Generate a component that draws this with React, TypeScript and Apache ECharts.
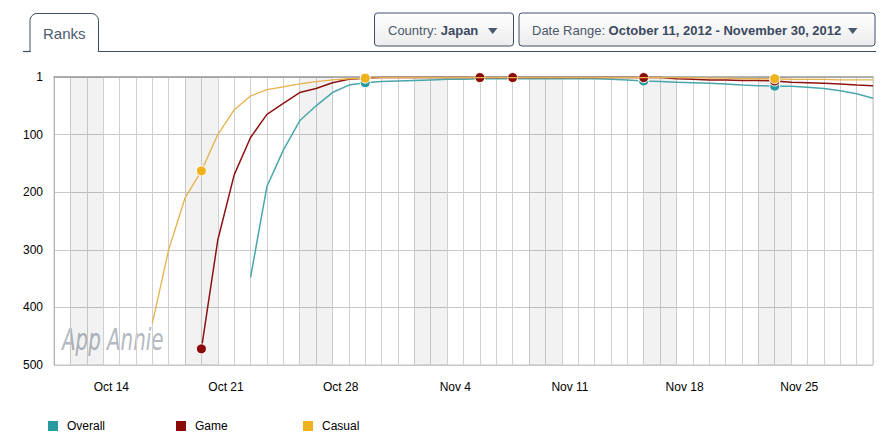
import React, { useEffect, useRef } from "react";
import * as echarts from "echarts";

// ---- data ----
const startDate = { year: 2012, month: 9, day: 11 }; // Oct 11, 2012
const dayCount = 51; // Oct 11 .. Nov 30
const tickLabels = ["Oct 14", "Oct 21", "Oct 28", "Nov 4", "Nov 11", "Nov 18", "Nov 25"];
const yTicks = [1, 100, 200, 300, 400, 500];
const weekendStarts = [1, 8, 15, 22, 29, 36, 43];
const seriesNames = ["Overall", "Game", "Casual"];

const overall: (number | null)[] = [
  null, null, null, null, null, null, null, null, null, null, null, null,
  348, 190, 127, 76, 50, 27, 14, 10, 8, 7, 6, 5, 4, 4, 3, 3, 3, 3, 3, 3, 3, 3,
  4, 5, 7, 8, 9, 10, 11, 12, 14, 15, 16, 16, 18, 20, 24, 29, 37,
];
const game: (number | null)[] = [
  null, null, null, null, null, null, null, null, null,
  472, 283, 170, 105, 65, 46, 27, 20, 10, 4, 2,
  1, 1, 1, 1, 1, 1, 1, 1, 1, 1, 1, 1, 1, 1, 1, 1, 1, 1,
  3, 4, 5, 5, 6, 6, 7, 9, 10, 11, 12, 14, 15,
];
const casual: (number | null)[] = [
  null, null, null, null, null, null,
  428, 300, 210, 163, 100, 57, 33, 22, 17, 12, 8, 5, 3, 2,
  1, 1, 1, 1, 1, 1, 1, 1, 1, 1, 1, 1, 1, 1, 1, 1, 1, 1, 1, 1,
  2, 2, 3, 3, 3, 4, 4, 4, 5, 5, 5,
];
const overallMarkers = [19, 36, 44];
const gameMarkers = [9, 26, 28, 36, 44];
const casualMarkers = [9, 19, 44];

const MONTHS = ["Jan", "Feb", "Mar", "Apr", "May", "Jun", "Jul", "Aug", "Sep", "Oct", "Nov", "Dec"];
function dayLabels(n: number): string[] {
  const out: string[] = [];
  for (let i = 0; i < n; i++) {
    const d = new Date(Date.UTC(startDate.year, startDate.month, startDate.day + i));
    out.push(MONTHS[d.getUTCMonth()] + " " + d.getUTCDate());
  }
  return out;
}

const FONT = "Arial, 'Liberation Sans', sans-serif";

export default function App() {
  const ref = useRef<HTMLDivElement>(null);
  useEffect(() => {
    if (!ref.current) return;
    const chart = echarts.init(ref.current, undefined, { renderer: "svg" });
    const days = dayLabels(dayCount);
    const cells = days.slice(0, dayCount - 1);

    const toData = (arr: (number | null)[]) => arr.map((v) => (v === null ? "-" : v));
    const mkSeries = (name: string, arr: (number | null)[], markers: number[], lineColor: string, dotColor: string, z: number, width: number) => ({
      name,
      type: "line",
      xAxisIndex: 0,
      data: toData(arr),
      z,
      symbol: "circle",
      showSymbol: true,
      showAllSymbol: true,
      symbolSize: (_v: any, p: any) => (markers.includes(p.dataIndex) ? 10 : 0),
      itemStyle: { color: dotColor, borderColor: "#ffffff", borderWidth: 1 },
      lineStyle: { color: lineColor, width },
      connectNulls: false,
    });

    const gradFill = new echarts.graphic.LinearGradient(0, 0, 0, 1, [
      { offset: 0, color: "#ffffff" },
      { offset: 1, color: "#ececec" },
    ]);

    chart.setOption({
      animation: false,
      backgroundColor: "#ffffff",
      textStyle: { fontFamily: FONT },
      grid: { left: 54, right: 15, top: 77, bottom: 82, show: true, borderColor: "#c4c4c4", borderWidth: 1 },
      legend: seriesNames.map((n, i) => ({
        data: [n],
        left: [46, 174, 301][i],
        top: 419,
        padding: 0,
        icon: "rect",
        itemWidth: 12,
        itemHeight: 12,
        itemGap: 8,
        textStyle: { color: "#000", fontSize: 12, fontFamily: FONT, padding: [1, 0, 0, 3] },
        selectedMode: false,
      })),
      xAxis: [
        {
          type: "category",
          data: days,
          boundaryGap: false,
          position: "bottom",
          axisLine: { show: true, lineStyle: { color: "#a0a0a0", width: 1.5 } },
          axisTick: { show: false },
          axisLabel: { show: false },
          splitLine: { show: true, interval: 0, lineStyle: { color: "#d0d0d0", width: 1 } },
        },
        {
          type: "category",
          data: cells,
          boundaryGap: true,
          position: "bottom",
          axisLine: { show: false },
          axisTick: { show: false },
          splitLine: { show: false },
          axisLabel: {
            interval: (_i: number, v: string) => tickLabels.includes(v),
            color: "#000",
            fontSize: 12,
            fontFamily: FONT,
            margin: 16,
          },
        },
      ],
      yAxis: {
        type: "value",
        inverse: true,
        min: 0,
        max: 500,
        interval: 100,
        axisLine: { show: true, lineStyle: { color: "#b4b4b4" } },
        axisTick: { show: false },
        axisLabel: {
          color: "#000",
          fontSize: 12,
          fontFamily: FONT,
          margin: 11,
          formatter: (v: number) => String(yTicks.find((t) => Math.abs(t - v) < 2) ?? v),
        },
        splitLine: { show: true, lineStyle: { color: "#c8c8c8" } },
      },
      series: [
        {
          name: "bands",
          type: "line",
          xAxisIndex: 0,
          data: [],
          z: 1,
          markArea: {
            silent: true,
            itemStyle: { color: "rgba(0,0,0,0.05)" },
            data: weekendStarts.map((s) => [{ xAxis: days[s] }, { xAxis: days[s + 2] }]),
          },
        },
        mkSeries("Overall", overall, overallMarkers, "#4aa6ad", "#2a9aa1", 3, 1.5),
        mkSeries("Game", game, gameMarkers, "#8f1212", "#8b0a0a", 4, 1.5),
        mkSeries("Casual", casual, casualMarkers, "#e6b14a", "#f0b21c", 5, 1.3),
      ],
      graphic: [
        { type: "line", shape: { x1: 23, y1: 51.5, x2: 30, y2: 51.5 }, style: { stroke: "#3d4f66", lineWidth: 1.2 } },
        { type: "line", shape: { x1: 98.5, y1: 51.5, x2: 876, y2: 51.5 }, style: { stroke: "#3d4f66", lineWidth: 1.2 } },
        { type: "rect", shape: { x: 30, y: 13.5, width: 68.5, height: 38, r: [7, 7, 0, 0] }, style: { fill: "#ffffff", stroke: "#3d4f66", lineWidth: 1 } },
        { type: "line", shape: { x1: 30.8, y1: 51.5, x2: 97.7, y2: 51.5 }, style: { stroke: "#ffffff", lineWidth: 2 } },
        { type: "text", x: 43, y: 33, style: { text: "Ranks", fill: "#4a5a70", fontSize: 15, fontFamily: FONT, verticalAlign: "middle" } },

        { type: "rect", shape: { x: 374.5, y: 13, width: 139, height: 33, r: 3 }, style: { fill: gradFill, stroke: "#3d4f66", lineWidth: 1 } },
        {
          type: "text", x: 388, y: 30.5,
          style: {
            text: "{n|Country: }{b|Japan}", verticalAlign: "middle",
            rich: {
              n: { fill: "#4a586c", fontSize: 13, fontFamily: FONT },
              b: { fill: "#3a4a60", fontSize: 13, fontFamily: FONT, fontWeight: "bold" },
            },
          },
        },
        { type: "polygon", shape: { points: [[488, 28], [497.5, 28], [492.7, 34]] }, style: { fill: "#4a5a70" } },

        { type: "rect", shape: { x: 519, y: 13, width: 356, height: 33, r: 3 }, style: { fill: gradFill, stroke: "#3d4f66", lineWidth: 1 } },
        {
          type: "text", x: 532, y: 30.5,
          style: {
            text: "{n|Date Range: }{b|October 11, 2012 - November 30, 2012}", verticalAlign: "middle",
            rich: {
              n: { fill: "#4a586c", fontSize: 13, fontFamily: FONT },
              b: { fill: "#3a4a60", fontSize: 13, fontFamily: FONT, fontWeight: "bold" },
            },
          },
        },
        { type: "polygon", shape: { points: [[848, 28], [857.5, 28], [852.7, 34]] }, style: { fill: "#4a5a70" } },

        {
          type: "text", x: 62, y: 339, z: 0, scaleX: 0.64,
          style: {
            text: "App Annie", fill: "#b4b9c1", fontSize: 31, fontStyle: "italic",
            fontFamily: "'DejaVu Sans', sans-serif", verticalAlign: "middle",
            stroke: "#ffffff", lineWidth: 1,
          },
        },
      ],
    });
    return () => chart.dispose();
  }, []);
  return <div ref={ref} style={{ position: "absolute", left: 0, top: 0, width: 888, height: 447 }} />;
}
